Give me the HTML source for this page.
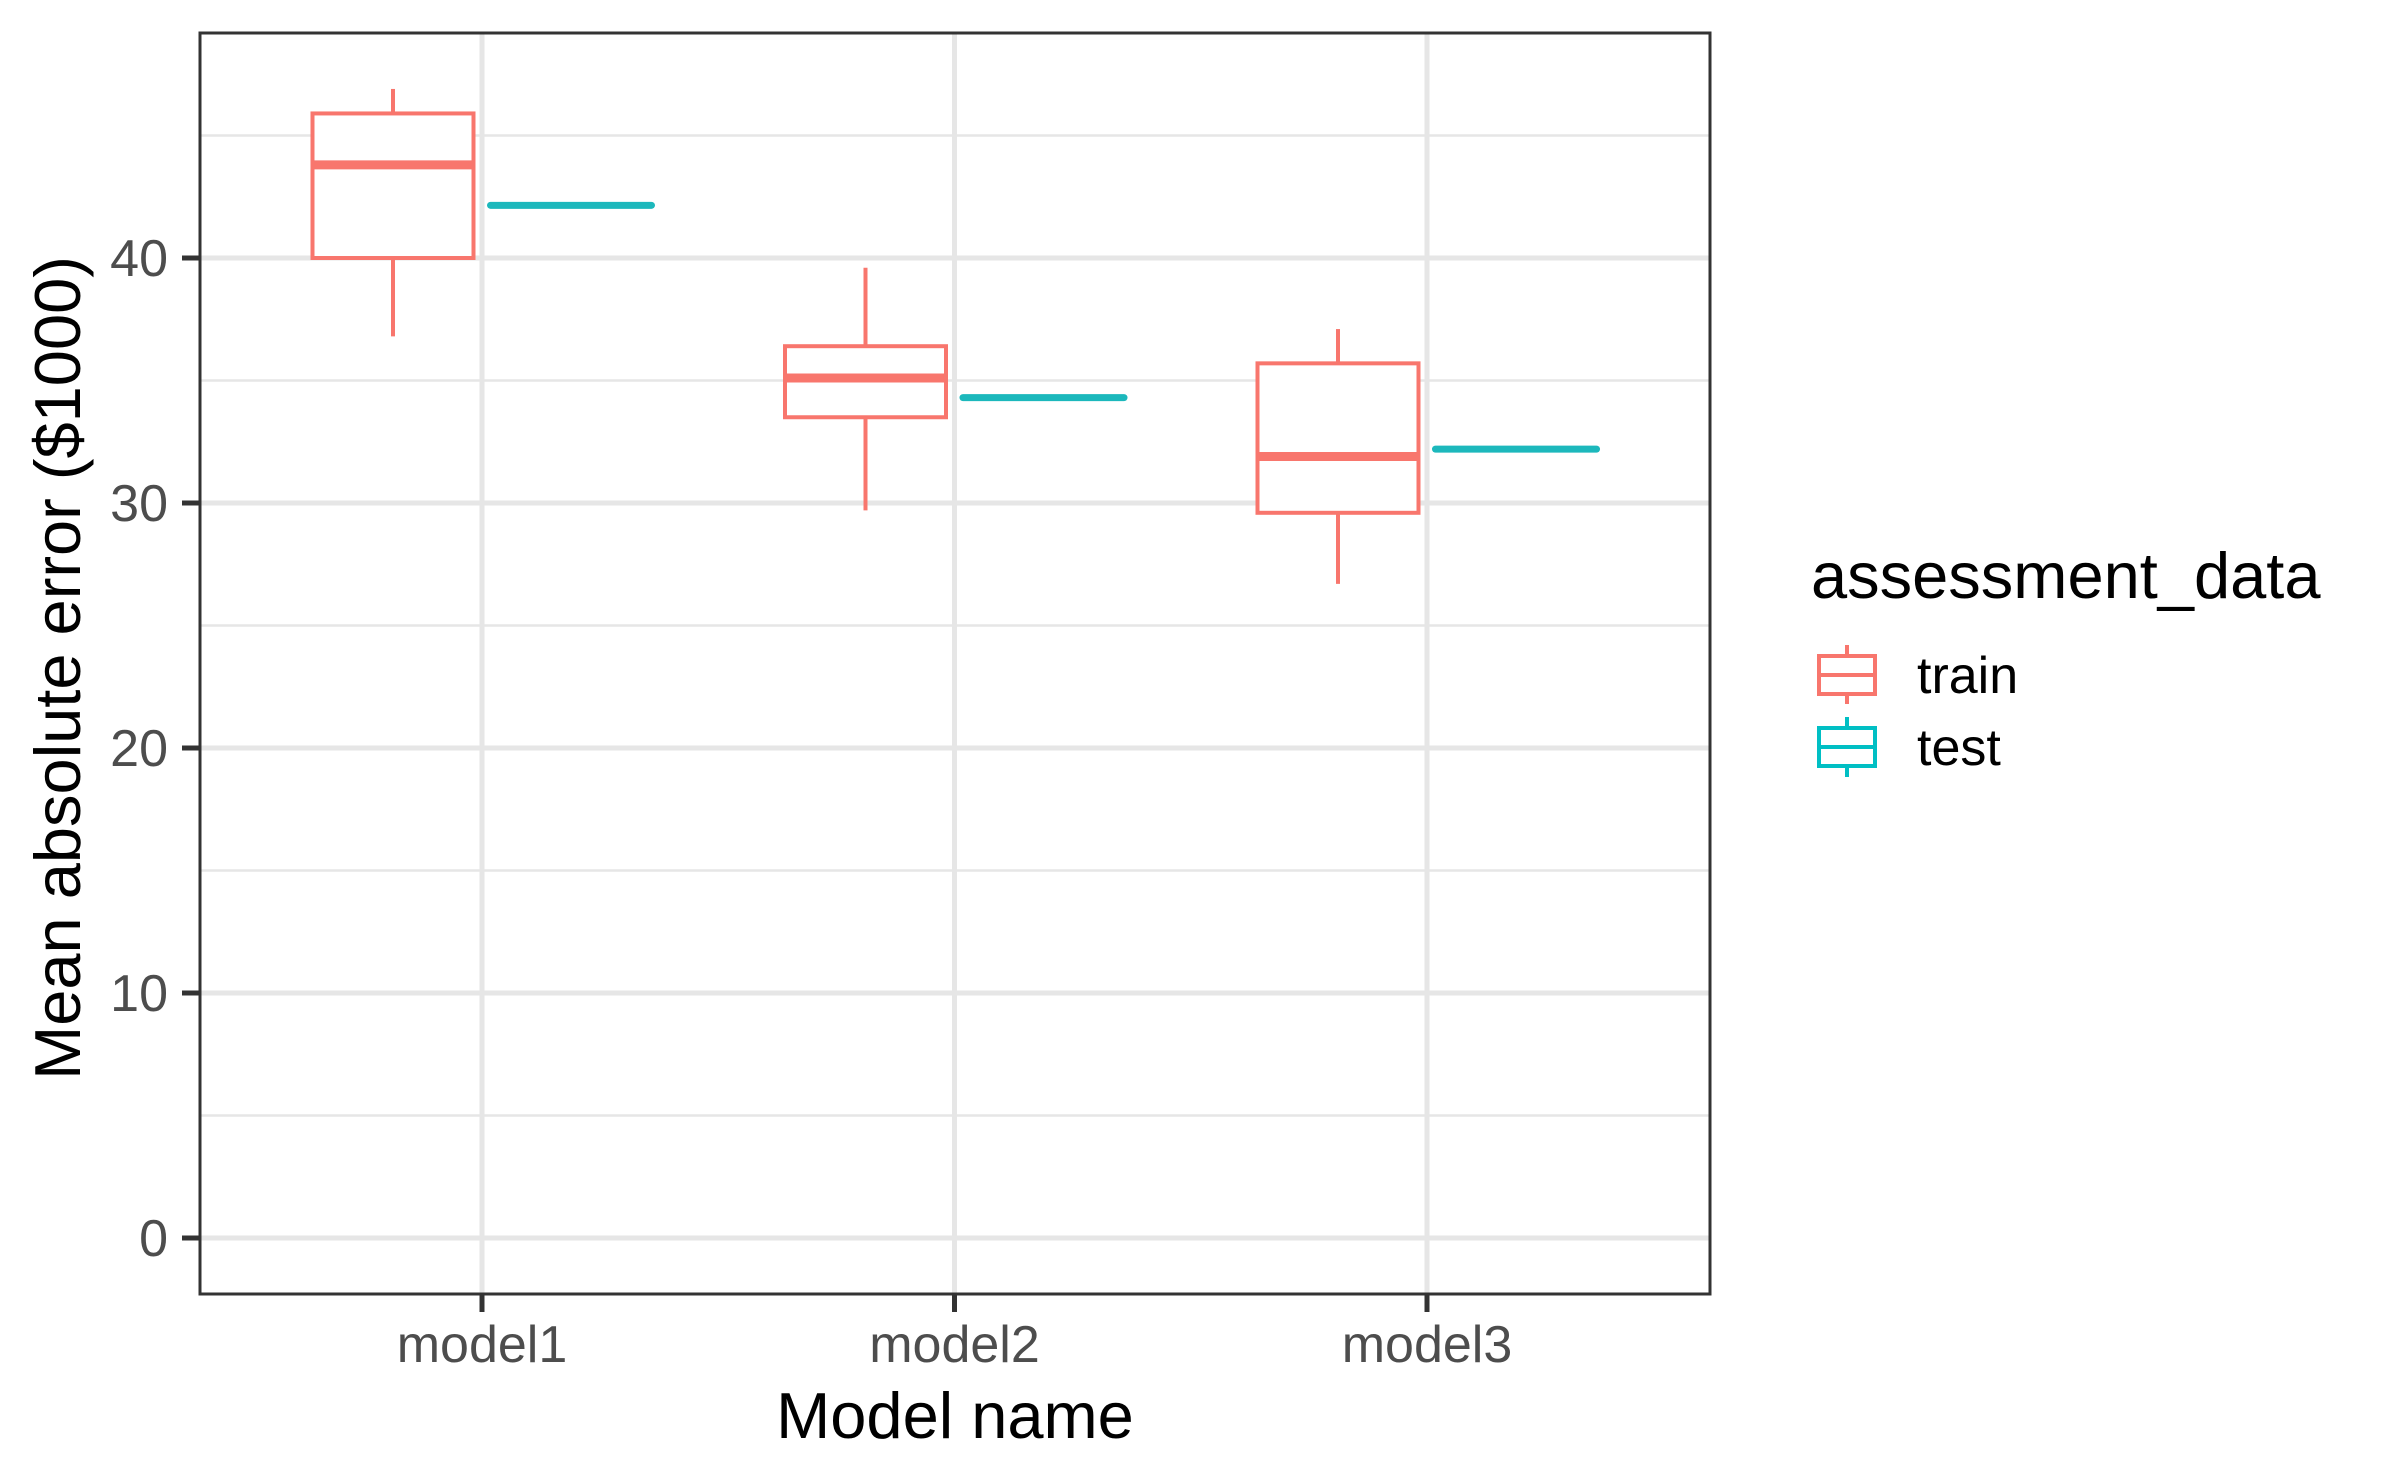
<!DOCTYPE html>
<html><head><meta charset="utf-8"><style>
html,body{margin:0;padding:0;background:#fff;}
svg{display:block;font-family:"Liberation Sans",sans-serif;}
</style></head><body>
<svg id="chart" width="2400" height="1483" viewBox="0 0 2400 1483" xmlns="http://www.w3.org/2000/svg">
<rect width="2400" height="1483" fill="#fff"/>
<g id="grid"></g>
<g id="marks"></g>
<rect x="200" y="33" width="1510" height="1261" fill="none" stroke="#333" stroke-width="3"/>
<g id="axes"></g>
<text x="955" y="1438" font-size="65" text-anchor="middle" fill="#000">Model name</text>
<text transform="translate(80,668) rotate(-90)" font-size="65" text-anchor="middle" fill="#000">Mean absolute error ($1000)</text>
<g>
<text x="1811" y="598" font-size="65" fill="#000">assessment_data</text>
<g>
<line x1="1847" y1="645" x2="1847" y2="704" stroke="#F8766D" stroke-width="4"/>
<rect x="1819" y="656" width="56" height="38" fill="#fff" stroke="#F8766D" stroke-width="4"/>
<line x1="1819" y1="675" x2="1875" y2="675" stroke="#F8766D" stroke-width="4"/>
<text x="1917" y="693" font-size="52" fill="#000">train</text>
</g>
<g>
<line x1="1847" y1="717" x2="1847" y2="777" stroke="#00BFC4" stroke-width="4"/>
<rect x="1819" y="728" width="56" height="38" fill="#fff" stroke="#00BFC4" stroke-width="4"/>
<line x1="1819" y1="747" x2="1875" y2="747" stroke="#00BFC4" stroke-width="4"/>
<text x="1917" y="765" font-size="52" fill="#000">test</text>
</g>
</g>
</svg>
<script>
const categories = ["model1","model2","model3"];
const trainLowW = [36.8, 29.7, 26.7];
const trainQ1 = [40.0, 33.5, 29.6];
const trainMed = [43.8, 35.1, 31.9];
const trainQ3 = [45.9, 36.4, 35.7];
const trainHighW = [46.9, 39.6, 37.1];
const testVals = [42.15, 34.3, 32.2];
const yTicks = [0, 10, 20, 30, 40];
const yMinor = [5, 15, 25, 35, 45];

const NS = "http://www.w3.org/2000/svg";
function y(v){ return 1238 - v * 24.5; }
function x(i){ return 482 + i * 472.5; }
function mk(tag, attrs, parent){
  const e = document.createElementNS(NS, tag);
  for (const k in attrs) e.setAttribute(k, attrs[k]);
  parent.appendChild(e); return e;
}
const grid = document.getElementById('grid');
const marks = document.getElementById('marks');
const axes = document.getElementById('axes');
yMinor.forEach(v => {
  const l = mk('line', {x1:200, x2:1710, y1:y(v), y2:y(v), stroke:'#E6E6E6', 'stroke-width':2.5}, grid);
  
  
});
yTicks.forEach(v => {
  const l = mk('line', {x1:200, x2:1710, y1:y(v), y2:y(v), stroke:'#E6E6E6', 'stroke-width':5}, grid);
  
  
  const t = mk('line', {x1:182, x2:200, y1:y(v), y2:y(v), stroke:'#333', 'stroke-width':5}, axes);
  
  
  const tx = mk('text', {x:168, y:y(v)+18, 'font-size':52, 'text-anchor':'end', fill:'#4D4D4D'}, axes);
  tx.textContent = v;
  
  
});
categories.forEach((c, i) => {
  const g = mk('line', {x1:x(i), x2:x(i), y1:33, y2:1294, stroke:'#E6E6E6', 'stroke-width':5}, grid);
  
  
  const t = mk('line', {x1:x(i), x2:x(i), y1:1294, y2:1312, stroke:'#333', 'stroke-width':5}, axes);
  
  
  const tx = mk('text', {x:x(i), y:1362, 'font-size':52, 'text-anchor':'middle', fill:'#4D4D4D'}, axes);
  tx.textContent = c;
  
  

  const cx = x(i) - 89, hw = 80.5;
  const bg = mk('g', {}, marks);
  
  
  mk('line', {x1:cx, x2:cx, y1:y(trainHighW[i]), y2:y(trainQ3[i]), stroke:'#F8766D', 'stroke-width':4}, bg);
  mk('line', {x1:cx, x2:cx, y1:y(trainQ1[i]), y2:y(trainLowW[i]), stroke:'#F8766D', 'stroke-width':4}, bg);
  mk('rect', {x:cx-hw, y:y(trainQ3[i]), width:2*hw, height:y(trainQ1[i])-y(trainQ3[i]), fill:'#fff', stroke:'#F8766D', 'stroke-width':4}, bg);
  mk('line', {x1:cx-hw, x2:cx+hw, y1:y(trainMed[i]), y2:y(trainMed[i]), stroke:'#F8766D', 'stroke-width':9}, bg);

  const tc = x(i) + 89;
  const tl = mk('line', {x1:tc-hw, x2:tc+hw, y1:y(testVals[i]), y2:y(testVals[i]), stroke:'#1CB8BC', 'stroke-width':7, 'stroke-linecap':'round'}, marks);
  
  
});
</script>
</body></html>
